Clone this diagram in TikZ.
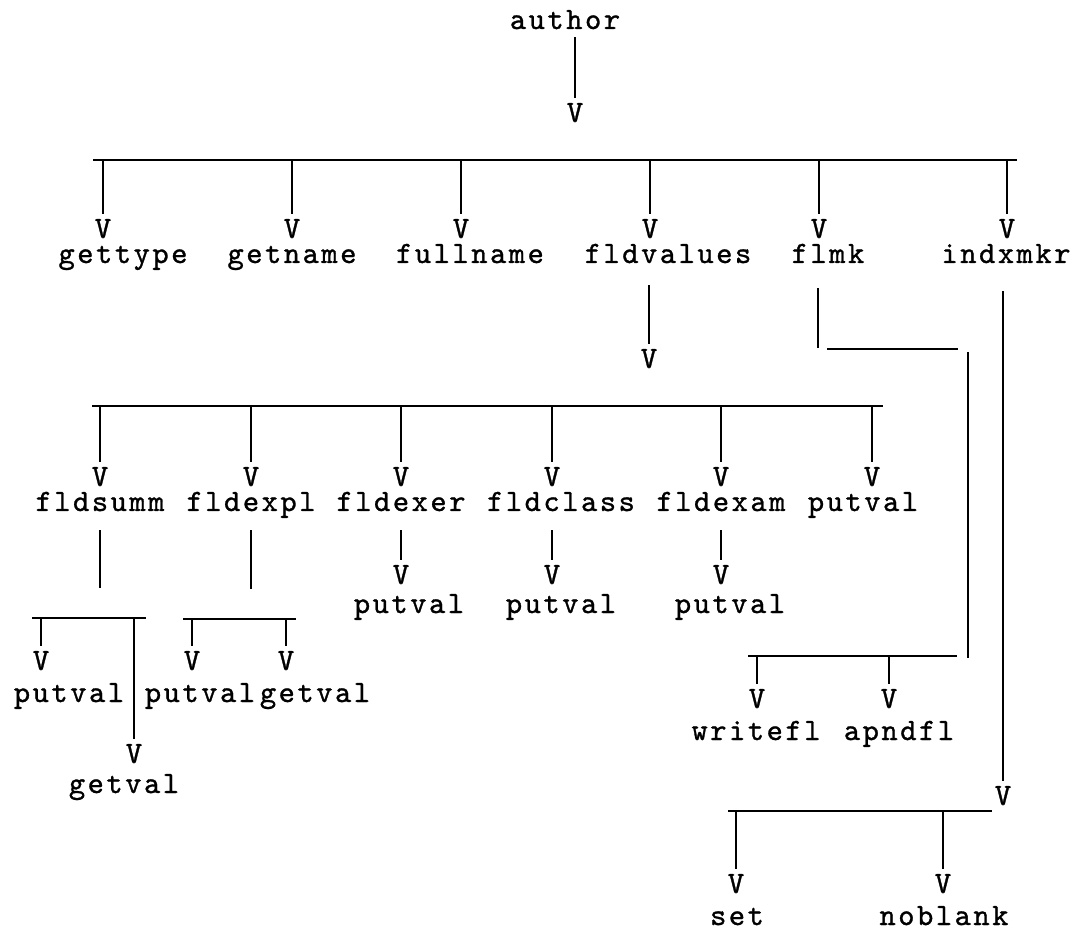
\documentclass[tikz,border=0pt]{standalone}
\usepackage{fontspec}
\usepackage{tikz}
\newfontfamily\tw{lmmono10-regular.otf}[LetterSpace=8.1, FakeBold=1]
\newcommand\twfont{\tw\fontsize{15.5}{17}\selectfont}

\begin{document}
\begin{tikzpicture}[
    x=0.5pt, y=-0.5pt,
    fn/.style={font=\twfont, inner sep=0pt, anchor=base, text depth=0pt},
    vmark/.style={font=\twfont, inner sep=0pt, anchor=base},
    link/.style={line width=0.9pt, shorten >=2.5pt},
    bar/.style={line width=1.4pt}
]
    \useasboundingbox (0,0) rectangle (1082,935);

    % root
    \node[fn] (author) at (565,29) {author};
    \node[vmark] (v0) at (575,122) {V};
    \draw[link, shorten <=4pt] (author.south -| v0) -- (v0.north);

    % first level
    \coordinate (b1w) at (93,160);
    \coordinate (b1e) at (1017,160);
    \draw[bar] (b1w) -- (b1e);

    \node[vmark] (gtV) at (103,238) {V};
    \node[vmark] (gnV) at (292,238) {V};
    \node[vmark] (fnV) at (461,238) {V};
    \node[vmark] (fvV) at (650,238) {V};
    \node[vmark] (fkV) at (819,238) {V};
    \node[vmark] (ixV) at (1007,238) {V};
    \foreach \v in {gtV,gnV,fnV,fvV,fkV,ixV}
        \draw[link] (\v |- b1w) -- (\v.north);

    \node[fn] (gettype) at (123,263) {gettype};
    \node[fn] (getname) at (292,263) {getname};
    \node[fn] (fullname) at (470,263) {fullname};
    \node[fn] (fldvalues) at (668,263) {fldvalues};
    \node[fn] (flmk) at (828,263) {flmk};
    \node[fn] (indxmkr) at (1006,263) {indxmkr};

    % fldvalues
    \node[vmark] (fvV2) at (649,368) {V};
    \draw[link, shorten <=11pt] (fldvalues.south -| fvV2) -- (fvV2.north);

    \coordinate (b2w) at (92,406);
    \coordinate (b2e) at (883,406);
    \draw[bar] (b2w) -- (b2e);

    \node[vmark] (fsV) at (100,486) {V};
    \node[vmark] (feV) at (251,486) {V};
    \node[vmark] (fxV) at (401,486) {V};
    \node[vmark] (fcV) at (552,486) {V};
    \node[vmark] (fmV) at (721,486) {V};
    \node[vmark] (pvV) at (872,486) {V};
    \foreach \v in {fsV,feV,fxV,fcV,fmV,pvV}
        \draw[link] (\v |- b2w) -- (\v.north);

    \node[fn] (fldsumm) at (100,511) {fldsumm};
    \node[fn] (fldexpl) at (251,511) {fldexpl};
    \node[fn] (fldexer) at (401,511) {fldexer};
    \node[fn] (fldclass) at (561,511) {fldclass};
    \node[fn] (fldexam) at (721,511) {fldexam};
    \node[fn] (pv1) at (863,511) {putval};

    % fldexer, fldclass, fldexam
    \node[vmark] (xV) at (401,584) {V};
    \node[vmark] (cV) at (552,584) {V};
    \node[vmark] (mV) at (721,584) {V};
    \draw[link, shorten <=9.5pt] (fldexer.south -| xV) -- (xV.north);
    \draw[link, shorten <=9.5pt] (fldclass.south -| cV) -- (cV.north);
    \draw[link, shorten <=9.5pt] (fldexam.south -| mV) -- (mV.north);
    \node[fn] (pv2) at (409,613) {putval};
    \node[fn] (pv3) at (561,613) {putval};
    \node[fn] (pv4) at (730,613) {putval};

    % fldsumm
    \coordinate (b3w) at (32,618);
    \coordinate (b3e) at (146,618);
    \draw[bar] (b3w) -- (b3e);
    \draw[link, shorten <=9.5pt, shorten >=15pt] (fldsumm.south) -- (fldsumm.south |- b3w);
    \node[vmark] (pV1) at (41,670) {V};
    \node[vmark] (gV1) at (134,763) {V};
    \draw[link] (pV1 |- b3w) -- (pV1.north);
    \draw[link] (gV1 |- b3w) -- (gV1.north);
    \node[fn] (pv5) at (69,702) {putval};
    \node[fn] (gv1) at (124,793) {getval};

    % fldexpl
    \coordinate (b4w) at (183,619);
    \coordinate (b4e) at (296,619);
    \draw[bar] (b4w) -- (b4e);
    \draw[link, shorten <=9.5pt, shorten >=15pt] (fldexpl.south) -- (fldexpl.south |- b4w);
    \node[vmark] (pV2) at (192,670) {V};
    \node[vmark] (gV2) at (286,670) {V};
    \draw[link] (pV2 |- b4w) -- (pV2.north);
    \draw[link] (gV2 |- b4w) -- (gV2.north);
    \node[fn] (pv6) at (200,702) {putval};
    \node[fn] (gv2) at (315,702) {getval};

    % flmk
    \coordinate (fkA) at (818,348);
    \coordinate (fkB) at (827,349);
    \coordinate (fkC) at (958,349);
    \coordinate (fkD) at (968,352);
    \coordinate (fkE) at (968,658);
    \draw[link, shorten <=12.5pt, shorten >=0pt] (flmk.south -| fkA) -- (fkA);
    \draw[bar] (fkB) -- (fkC);
    \draw[link, shorten >=0pt] (fkD) -- (fkE);

    \coordinate (b5w) at (748,656);
    \coordinate (b5e) at (957,656);
    \draw[bar] (b5w) -- (b5e);
    \node[vmark] (wV) at (757,708) {V};
    \node[vmark] (aV) at (889,708) {V};
    \draw[link] (wV |- b5w) -- (wV.north);
    \draw[link] (aV |- b5w) -- (aV.north);
    \node[fn] (writefl) at (756,740) {writefl};
    \node[fn] (apndfl) at (899,740) {apndfl};

    % indxmkr
    \node[vmark] (ixV2) at (1003,805) {V};
    \draw[link, shorten <=14pt] (indxmkr.south -| ixV2) -- (ixV2.north);

    \coordinate (b6w) at (728,811);
    \coordinate (b6e) at (992,811);
    \draw[bar] (b6w) -- (b6e);
    \node[vmark] (sV) at (736,893) {V};
    \node[vmark] (nV) at (943,893) {V};
    \draw[link] (sV |- b6w) -- (sV.north);
    \draw[link] (nV |- b6w) -- (nV.north);
    \node[fn] (set) at (737,925) {set};
    \node[fn] (noblank) at (944,925) {noblank};
\end{tikzpicture}
\end{document}
